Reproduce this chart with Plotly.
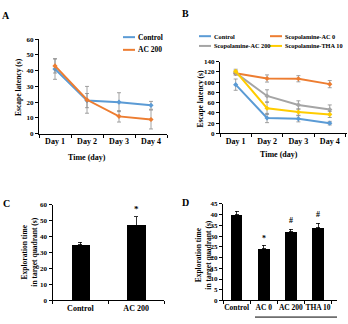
import plotly.graph_objects as go

W, H = 348, 324

# ---------------- data ----------------
days = ["Day 1", "Day 2", "Day 3", "Day 4"]

a_names = ["Control", "AC 200"]
a_control = [41, 21, 20, 18]
a_control_err = [6.5, 4.5, 6, 2.5]
a_ac200 = [43, 21.5, 11, 9]
a_ac200_err = [4.5, 8.5, 3.6, 6]

b_names = ["Control", "Scopolamine-AC 0", "Scopolamine-AC 200", "Scopolamine-THA 10"]
b_control = [95, 30, 28.5, 20]
b_control_err = [11, 9, 6, 3.5]
b_ac0 = [117, 107, 106.5, 96]
b_ac0_err = [3, 7, 6, 7]
b_ac200 = [118, 73, 55.5, 46.5]
b_ac200_err = [4, 12, 8, 9]
b_tha10 = [121, 49, 41.5, 37]
b_tha10_err = [4, 12, 6, 6]

c_groups = ["Control", "AC 200"]
c_values = [35, 47.3]
c_err = [1.7, 5.3]
c_marks = ["", "*"]

d_groups = ["Control", "AC 0", "AC 200", "THA 10"]
d_values = [40, 24, 32, 34]
d_err = [1.7, 1.7, 1.1, 2]
d_marks = ["", "*", "#", "#"]

# ---------------- style ----------------
BLUE, ORANGE, GRAY, YELLOW = "#5B9BD5", "#ED7D31", "#A5A5A5", "#FFCC00"
FONT = "Liberation Serif"
ERRC = "#8a8a8a"


def px(x):
    return x / W


def py(y):
    return 1 - y / H


fig = go.Figure()


def line_trace(y, err, name, color, ax):
    return go.Scatter(
        x=days, y=y, name=name, mode="lines+markers",
        line=dict(color=color, width=2),
        marker=dict(color=color, size=4, symbol="diamond"),
        error_y=dict(type="data", array=err, color=ERRC, thickness=0.8, width=2),
        xaxis="x" + ax, yaxis="y" + ax, showlegend=False,
    )


fig.add_trace(line_trace(a_control, a_control_err, a_names[0], BLUE, ""))
fig.add_trace(line_trace(a_ac200, a_ac200_err, a_names[1], ORANGE, ""))

b_series = [(b_control, b_control_err, BLUE), (b_ac0, b_ac0_err, ORANGE),
            (b_ac200, b_ac200_err, GRAY), (b_tha10, b_tha10_err, YELLOW)]
for (v, e, c), n in zip(b_series, b_names):
    fig.add_trace(line_trace(v, e, n, c, "2"))

fig.add_trace(go.Bar(
    x=c_groups, y=c_values, marker=dict(color="black", line=dict(width=0)),
    error_y=dict(type="data", array=c_err, visible=True, color="black", thickness=0.8, width=2,
                 symmetric=False, arrayminus=[0] * len(c_err)),
    width=0.33, xaxis="x3", yaxis="y3", showlegend=False,
))
fig.add_trace(go.Bar(
    x=d_groups, y=d_values, marker=dict(color="black", line=dict(width=0)),
    error_y=dict(type="data", array=d_err, visible=True, color="black", thickness=0.8, width=2,
                 symmetric=False, arrayminus=[0] * len(d_err)),
    width=0.43, xaxis="x4", yaxis="y4", showlegend=False,
))

ytickfont = dict(family=FONT, size=7, color="black", weight="bold")


def xax(domain, anchor, rng, fs=8):
    return dict(domain=domain, anchor=anchor, type="category", range=rng,
                showline=True, linecolor="black", linewidth=1,
                ticks="outside", ticklen=3, tickcolor="black", tickson="boundaries",
                tickangle=0,
                tickfont=dict(family=FONT, size=fs, color="black", weight="bold"),
                showgrid=False, zeroline=False, fixedrange=True)


def yax(domain, anchor, rng, dtick):
    return dict(domain=domain, anchor=anchor, range=rng, dtick=dtick,
                showline=True, linecolor="black", linewidth=1,
                ticks="outside", ticklen=3, tickcolor="black",
                tickfont=ytickfont, showgrid=False, zeroline=False, fixedrange=True)


fig.update_layout(
    width=W, height=H, margin=dict(l=0, r=0, t=0, b=0),
    paper_bgcolor="white", plot_bgcolor="white",
    font=dict(family=FONT, color="black"),
    bargap=0,
    xaxis=xax([px(39), px(167)], "y", [-0.5, 3.5]),
    yaxis=yax([py(133), py(36)], "x", [0, 60], 10),
    xaxis2=xax([px(220), px(347)], "y2", [-0.5, 3.55]),
    yaxis2=yax([py(132.7), py(59)], "x2", [0, 140], 20),
    xaxis3=xax([px(52.5), px(164)], "y3", [-0.5, 1.5]),
    yaxis3=yax([py(304), py(206)], "x3", [0, 60], 10),
    xaxis4=xax([px(223), px(337)], "y4", [-0.5, 3.7], fs=7.5),
    yaxis4=yax([py(304), py(205)], "x4", [0, 45], 5),
)

ann = []
shapes = []


def label(text, x, y, size, angle=0, xanchor="center"):
    ann.append(dict(text=text, x=px(x), y=py(y), xref="paper", yref="paper",
                    xanchor=xanchor, yanchor="middle", textangle=angle, showarrow=False,
                    font=dict(family=FONT, size=size, weight="bold")))


# panel letters
for letter, x, y in [("A", 6, 12), ("B", 186, 10), ("C", 6, 205), ("D", 186, 204)]:
    label(letter, x, y, 10)

# axis titles
label("Time (day)", 87, 157, 8)
label("Time (day)", 279, 154, 8)
label("Escape latency (s)", 19, 85, 7.5, -90)
label("Escape latency (s)", 201, 97, 7.5, -90)
label("Exploration time<br>in target quadrant (s)", 30, 255, 7.5, -90)
label("Exploration time<br>in target quadrant (s)", 204, 257, 7.5, -90)

# significance marks
for g, v, e, m in zip(c_groups, c_values, c_err, c_marks):
    if m:
        ann.append(dict(text=m, x=g, y=v + e, xref="x3", yref="y3", yanchor="bottom",
                        xanchor="center", showarrow=False, yshift=1,
                        font=dict(family=FONT, size=9, weight="bold")))
for g, v, e, m in zip(d_groups, d_values, d_err, d_marks):
    if m:
        ann.append(dict(text=m, x=g, y=v + e, xref="x4", yref="y4", yanchor="bottom",
                        xanchor="center", showarrow=False, yshift=(0 if m == "*" else 2),
                        font=dict(family=FONT, size=8, weight="bold")))

# underline grouping the scopolamine-treated groups
shapes.append(dict(type="line", xref="paper", yref="paper", x0=px(255), x1=px(337),
                   y0=py(321), y1=py(321), line=dict(color="black", width=1)))


# legends (short sample lines + labels)
def legend_item(name, color, x, y, size=7.5):
    shapes.append(dict(type="line", xref="paper", yref="paper", x0=px(x), x1=px(x + 12),
                       y0=py(y), y1=py(y), line=dict(color=color, width=2)))
    label(name, x + 13, y, size, xanchor="left")


legend_item(a_names[0], BLUE, 123, 34)
legend_item(a_names[1], ORANGE, 123, 47)
legend_item(b_names[0], BLUE, 199, 33, 6.3)
legend_item(b_names[1], ORANGE, 270, 33, 6.3)
legend_item(b_names[2], GRAY, 199, 43, 6.3)
legend_item(b_names[3], YELLOW, 270, 43, 6.3)

fig.update_layout(annotations=ann, shapes=shapes)

fig.write_html("out.html")
